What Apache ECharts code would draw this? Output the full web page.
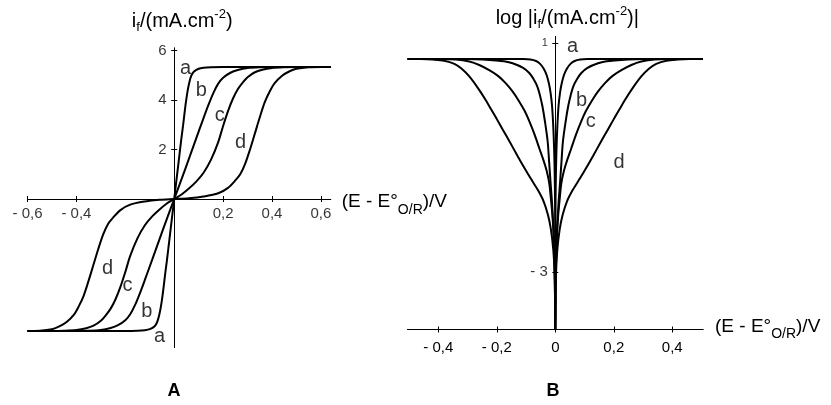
<!DOCTYPE html>
<html>
<head>
<meta charset="utf-8">
<script src="https://cdn.jsdelivr.net/npm/echarts@6/dist/echarts.min.js"></script>
<style>
  html, body { margin: 0; padding: 0; background: #fff; }
  #chart { width: 831px; height: 405px; }
</style>
</head>
<body>
<div id="chart"></div>
<script>
// ---- panel A : i_f vs (E - E°) ----
const curveA_a = [[-0.6,-5.33],[-0.2,-5.33],[-0.15,-5.32],[-0.12,-5.3],[-0.1,-5.26],[-0.08,-5.14],[-0.07,-4.98],[-0.062,-4.72],[-0.055,-4.38],[-0.048,-3.92],[-0.042,-3.45],[-0.036,-2.95],[-0.03,-2.5],[-0.024,-2.0],[-0.018,-1.5],[-0.012,-1.0],[-0.006,-0.5],[0,0],[0.006,0.5],[0.012,1.0],[0.018,1.5],[0.024,2.0],[0.03,2.5],[0.036,2.95],[0.042,3.45],[0.048,3.92],[0.055,4.38],[0.062,4.72],[0.07,4.98],[0.08,5.14],[0.1,5.26],[0.12,5.3],[0.15,5.32],[0.2,5.33],[0.64,5.33]];
const curveA_b = [[-0.6,-5.33],[-0.42,-5.33],[-0.35,-5.32],[-0.3,-5.29],[-0.26,-5.21],[-0.23,-5.1],[-0.2,-4.9],[-0.18,-4.66],[-0.16,-4.28],[-0.14,-3.8],[-0.12,-3.27],[-0.09,-2.45],[-0.06,-1.62],[-0.03,-0.8],[0,0],[0.03,0.8],[0.06,1.62],[0.09,2.45],[0.12,3.27],[0.14,3.8],[0.16,4.28],[0.18,4.66],[0.2,4.9],[0.23,5.1],[0.26,5.21],[0.3,5.29],[0.35,5.32],[0.42,5.33],[0.64,5.33]];
const curveA_c = [[-0.6,-5.33],[-0.5,-5.33],[-0.45,-5.32],[-0.4,-5.29],[-0.36,-5.22],[-0.33,-5.12],[-0.3,-4.92],[-0.28,-4.7],[-0.26,-4.43],[-0.24,-4.05],[-0.22,-3.55],[-0.2,-2.95],[-0.18,-2.3],[-0.15,-1.58],[-0.12,-1.06],[-0.09,-0.7],[-0.06,-0.42],[-0.03,-0.18],[0,0],[0.03,0.18],[0.06,0.42],[0.09,0.7],[0.12,1.06],[0.15,1.58],[0.18,2.3],[0.2,2.95],[0.22,3.55],[0.24,4.05],[0.26,4.43],[0.28,4.7],[0.3,4.92],[0.33,5.12],[0.36,5.22],[0.4,5.29],[0.45,5.32],[0.5,5.33],[0.64,5.33]];
const curveA_d = [[-0.6,-5.33],[-0.55,-5.32],[-0.5,-5.26],[-0.47,-5.15],[-0.44,-4.97],[-0.41,-4.67],[-0.39,-4.33],[-0.37,-3.9],[-0.35,-3.3],[-0.33,-2.65],[-0.31,-2.0],[-0.29,-1.42],[-0.27,-1.0],[-0.25,-0.75],[-0.22,-0.45],[-0.18,-0.23],[-0.12,-0.1],[-0.06,-0.03],[0,0],[0.06,0.03],[0.12,0.1],[0.18,0.23],[0.22,0.45],[0.25,0.75],[0.27,1.0],[0.29,1.42],[0.31,2.0],[0.33,2.65],[0.35,3.3],[0.37,3.9],[0.39,4.33],[0.41,4.67],[0.44,4.97],[0.47,5.15],[0.5,5.26],[0.55,5.32],[0.6,5.33],[0.64,5.33]];

// ---- panel B : log|i_f| vs (E - E°) ----
const curveB_a = [[-0.505,0.727],[-0.15,0.727],[-0.11,0.725],[-0.085,0.715],[-0.066,0.69],[-0.052,0.64],[-0.04,0.56],[-0.03,0.45],[-0.022,0.3],[-0.016,0.13],[-0.011,-0.1],[-0.007,-0.45],[-0.004,-0.85],[-0.002,-1.3],[-0.001,-1.7],[-0.0005,-2.2],[0,-4],[0.0005,-2.2],[0.001,-1.7],[0.002,-1.3],[0.004,-0.85],[0.007,-0.45],[0.011,-0.1],[0.016,0.13],[0.022,0.3],[0.03,0.45],[0.04,0.56],[0.052,0.64],[0.066,0.69],[0.085,0.715],[0.11,0.725],[0.15,0.727],[0.505,0.727]];
const curveB_b = [[-0.505,0.727],[-0.35,0.727],[-0.3,0.725],[-0.25,0.715],[-0.203,0.7],[-0.175,0.685],[-0.146,0.65],[-0.11,0.57],[-0.089,0.48],[-0.075,0.38],[-0.061,0.24],[-0.052,0.08],[-0.044,-0.1],[-0.035,-0.38],[-0.026,-0.72],[-0.021,-1.08],[-0.016,-1.45],[-0.011,-1.8],[-0.006,-2.3],[-0.002,-3.0],[0,-4],[0.002,-3.0],[0.006,-2.3],[0.011,-1.8],[0.016,-1.45],[0.021,-1.08],[0.026,-0.72],[0.035,-0.38],[0.044,-0.1],[0.052,0.08],[0.061,0.24],[0.075,0.38],[0.089,0.48],[0.11,0.57],[0.146,0.65],[0.175,0.685],[0.203,0.7],[0.25,0.715],[0.3,0.725],[0.35,0.727],[0.505,0.727]];
const curveB_c = [[-0.505,0.727],[-0.4,0.725],[-0.34,0.715],[-0.294,0.68],[-0.26,0.62],[-0.226,0.53],[-0.196,0.43],[-0.169,0.3],[-0.145,0.15],[-0.123,-0.02],[-0.105,-0.18],[-0.089,-0.36],[-0.072,-0.58],[-0.055,-0.83],[-0.04,-1.05],[-0.03,-1.22],[-0.0205,-1.45],[-0.015,-1.72],[-0.01,-2.0],[-0.006,-2.3],[-0.003,-2.7],[-0.001,-3.2],[0,-4],[0.001,-3.2],[0.003,-2.7],[0.006,-2.3],[0.01,-2.0],[0.015,-1.72],[0.0205,-1.45],[0.03,-1.22],[0.04,-1.05],[0.055,-0.83],[0.072,-0.58],[0.089,-0.36],[0.105,-0.18],[0.123,-0.02],[0.145,0.15],[0.169,0.3],[0.196,0.43],[0.226,0.53],[0.26,0.62],[0.294,0.68],[0.34,0.715],[0.4,0.725],[0.505,0.727]];
const curveB_d = [[-0.505,0.727],[-0.46,0.725],[-0.42,0.715],[-0.38,0.695],[-0.345,0.64],[-0.32,0.555],[-0.294,0.42],[-0.265,0.22],[-0.237,0.0],[-0.22,-0.15],[-0.2,-0.325],[-0.18,-0.505],[-0.155,-0.73],[-0.13,-0.96],[-0.11,-1.14],[-0.085,-1.355],[-0.06,-1.56],[-0.04,-1.76],[-0.025,-2.0],[-0.015,-2.25],[-0.007,-2.6],[-0.003,-2.95],[-0.001,-3.4],[0,-4],[0.001,-3.4],[0.003,-2.95],[0.007,-2.6],[0.015,-2.25],[0.025,-2.0],[0.04,-1.76],[0.06,-1.56],[0.085,-1.355],[0.11,-1.14],[0.13,-0.96],[0.155,-0.73],[0.18,-0.505],[0.2,-0.325],[0.22,-0.15],[0.237,0.0],[0.265,0.22],[0.294,0.42],[0.32,0.555],[0.345,0.64],[0.38,0.695],[0.42,0.715],[0.46,0.725],[0.505,0.727]];

// curve letters [x, y, text]
const lettersA = [[0.046,5.28,'a'],[0.111,4.4,'b'],[0.186,3.39,'c'],[0.271,2.28,'d'],[-0.273,-2.8,'d'],[-0.191,-3.51,'c'],[-0.112,-4.53,'b'],[-0.06,-5.56,'a']];
const lettersB = [[0.059,0.942,'a'],[0.09,-0.004,'b'],[0.121,-0.368,'c'],[0.218,-1.082,'d']];

// tick values
const ticksAX = [-0.6, -0.4, 0.2, 0.4, 0.6];
const ticksAY = [2, 4, 6];
const ticksBX = [-0.4, -0.2, 0, 0.2, 0.4];
const ticksBY = [-3, 1];

const FONT = "'Liberation Sans', Arial, sans-serif";
const lineCol = "#000";

function fmtNum(v) {
  if (v === 0) return "0";
  return (v < 0 ? "- " : "") + String(Math.abs(v)).replace(".", ",");
}

const richTitle = {
  t: { fontSize: 20, lineHeight: 26, fontFamily: FONT, color: "#000" },
  sup: { fontSize: 13, lineHeight: 12, verticalAlign: "top", fontFamily: FONT, color: "#000" },
  sub: { fontSize: 13, lineHeight: 12, verticalAlign: "bottom", fontFamily: FONT, color: "#000" }
};
const richName = {
  t: { fontSize: 19, lineHeight: 30, fontFamily: FONT, color: "#000" },
  sub: { fontSize: 14, lineHeight: 14, verticalAlign: "bottom", fontFamily: FONT, color: "#000" }
};
const xName = "{t|(E - E°}{sub|O/R}{t|)/V}";

const baseAxis = {
  type: "value",
  axisLine: { lineStyle: { color: lineCol, width: 1 } },
  splitLine: { show: false }
};
function axis(extra) {
  return Object.assign({}, baseAxis, extra);
}
function ticks(vals) {
  return { customValues: vals, length: 3, lineStyle: { color: lineCol } };
}

// axes: each has a twin carrying the ticks on the other side of the line
const xAxes = [
  axis({ gridIndex: 0, min: -0.6, max: 0.64, position: "bottom",
    axisLine: { onZero: true, lineStyle: { color: lineCol } },
    axisTick: ticks(ticksAX), axisLabel: { show: false },
    name: xName, nameLocation: "end", nameGap: 11,
    nameTextStyle: { rich: richName, align: "left", padding: [6, 0, 0, 0] } }),
  axis({ gridIndex: 0, min: -0.6, max: 0.64, position: "top",
    axisLine: { onZero: true, lineStyle: { color: lineCol } },
    axisTick: ticks(ticksAX), axisLabel: { show: false } }),
  axis({ gridIndex: 1, min: -0.505, max: 0.505, position: "bottom",
    axisLine: { onZero: false, lineStyle: { color: lineCol } },
    axisTick: ticks(ticksBX),
    axisLabel: { customValues: ticksBX, formatter: fmtNum, fontSize: 15, color: "#000", fontFamily: FONT, margin: 11 },
    name: xName, nameLocation: "end", nameGap: 12,
    nameTextStyle: { rich: richName, align: "left", padding: [0, 0, 6, 0] } }),
  axis({ gridIndex: 1, min: -0.505, max: 0.505, position: "top", offset: -293.1,
    axisLine: { onZero: false, lineStyle: { color: lineCol } },
    axisTick: ticks(ticksBX), axisLabel: { show: false } })
];
const yAxes = [
  axis({ gridIndex: 0, min: -6, max: 6.1, position: "left",
    axisLine: { onZero: true, lineStyle: { color: lineCol } },
    axisTick: ticks(ticksAY), axisLabel: { show: false },
    name: "{t|i}{sub|f}{t|/(mA.cm}{sup|-2}{t|)}", nameLocation: "end", nameGap: 14,
    nameTextStyle: { rich: richTitle, padding: [0, 0, 0, 16] } }),
  axis({ gridIndex: 0, min: -6, max: 6.1, position: "right",
    axisLine: { onZero: true, lineStyle: { color: lineCol } },
    axisTick: ticks(ticksAY), axisLabel: { show: false } }),
  axis({ gridIndex: 1, min: -4, max: 1.12, position: "left",
    axisLine: { onZero: true, lineStyle: { color: lineCol } },
    axisTick: ticks(ticksBY), axisLabel: { show: false },
    name: "{t|log |i}{sub|f}{t|/(mA.cm}{sup|-2}{t|)|}", nameLocation: "end", nameGap: 5,
    nameTextStyle: { rich: richTitle, padding: [0, 0, 0, 24] } }),
  axis({ gridIndex: 1, min: -4, max: 1.12, position: "right",
    axisLine: { onZero: true, lineStyle: { color: lineCol } },
    axisTick: ticks(ticksBY), axisLabel: { show: false } })
];

function curve(data, xi, yi) {
  return {
    type: "line", data: data, xAxisIndex: xi, yAxisIndex: yi,
    symbol: "none", smooth: 0.3,
    lineStyle: { color: "#000", width: 2 }, silent: true
  };
}
function textMarks(data, xi, yi, pos, dist, size) {
  return {
    type: "scatter", data: data, xAxisIndex: xi, yAxisIndex: yi,
    symbolSize: 1, itemStyle: { color: "rgba(0,0,0,0)" }, silent: true, z: 5,
    label: { show: true, position: pos, distance: dist, formatter: p => p.value[2],
      fontSize: size, color: "#000", fontFamily: FONT }
  };
}

// tick labels sit on the axes that cross at zero
const tickTextAX = ticksAX.map(v => [v, 0, fmtNum(v)]);
const tickTextAY = ticksAY.map(v => [0, v, fmtNum(v)]);
const tickTextBY = ticksBY.map(v => [0, v, fmtNum(v)]);
const seriesBY = textMarks(tickTextBY, 2, 2, "left", 7, 15);
seriesBY.label.rich = { s: { fontSize: 11, fontFamily: FONT, color: "#000" } };
seriesBY.label.formatter = p => (p.value[1] > 0 ? "{s|" + p.value[2] + "}" : p.value[2]);

const option = {
  animation: false,
  textStyle: { fontFamily: FONT, color: "#000" },
  grid: [
    { left: 27.5, top: 48, width: 303.2, height: 299.5 },
    { left: 407.6, top: 36.4, width: 295.4, height: 293.1 }
  ],
  xAxis: xAxes,
  yAxis: yAxes,
  graphic: [
    { type: "text", x: 174, y: 391, style: { text: "A", fontSize: 18, fontWeight: "bold", fontFamily: FONT, fill: "#000", align: "center", verticalAlign: "middle" } },
    { type: "text", x: 553, y: 391, style: { text: "B", fontSize: 18, fontWeight: "bold", fontFamily: FONT, fill: "#000", align: "center", verticalAlign: "middle" } }
  ],
  series: [
    curve(curveA_a, 0, 0), curve(curveA_b, 0, 0), curve(curveA_c, 0, 0), curve(curveA_d, 0, 0),
    curve(curveB_a, 2, 2), curve(curveB_b, 2, 2), curve(curveB_c, 2, 2), curve(curveB_d, 2, 2),
    textMarks(lettersA, 0, 0, "inside", 0, 20), textMarks(lettersB, 2, 2, "inside", 0, 20),
    textMarks(tickTextAX, 0, 0, "bottom", 7, 15), textMarks(tickTextAY, 0, 0, "left", 7, 15),
    seriesBY
  ]
};

const chart = echarts.init(document.getElementById("chart"));
chart.setOption(option);
</script>
</body>
</html>
